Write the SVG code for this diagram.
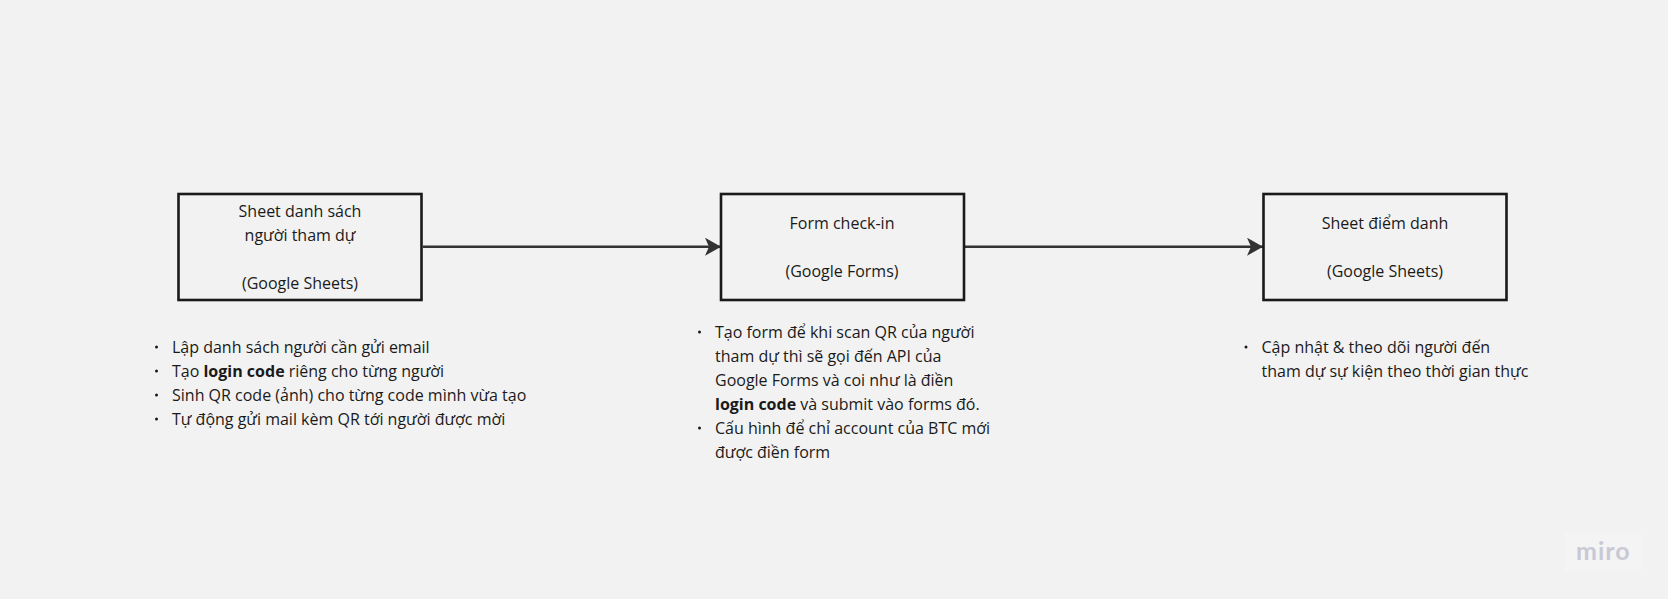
<svg xmlns="http://www.w3.org/2000/svg" width="1668" height="599" viewBox="0 0 1668 599">
<style>
text{font-family:"Open Sans","Noto Sans","DejaVu Sans",sans-serif;font-size:16px;fill:#1a1a1a}
.c{text-anchor:middle}
.b{font-weight:700}
.box{fill:none;stroke:#1a1a1a;stroke-width:2.6}
.edge{fill:none;stroke:#333;stroke-width:2.6;marker-end:url(#arrow)}
.dot{fill:#1a1a1a}
</style>
<defs>
<marker id="arrow" markerUnits="userSpaceOnUse" markerWidth="20" markerHeight="20" refX="17" refY="9" orient="auto"><path d="M1 0L17 9L1 18L5 9Z" fill="#333"/></marker>
</defs>
<rect width="1668" height="599" fill="#f2f2f2"/>
<g id="connectors">
<path class="edge" d="M423 246.7H721"/>
<path class="edge" d="M965 246.7H1263"/>
</g>
<g id="node-sheet-list">
<rect class="box" x="178.500" y="194" width="243" height="106"/>
<text class="c" x="300" y="217">Sheet danh sách</text>
<text class="c" x="300" y="241">người tham dự</text>
<text class="c" x="300" y="289">(Google Sheets)</text>
</g>
<g id="node-form">
<rect class="box" x="721" y="194" width="243" height="106"/>
<text class="c" x="842" y="229">Form check-in</text>
<text class="c" x="842" y="277">(Google Forms)</text>
</g>
<g id="node-sheet-attendance">
<rect class="box" x="1263.500" y="194" width="243" height="106"/>
<text class="c" x="1385" y="229">Sheet điểm danh</text>
<text class="c" x="1385" y="277">(Google Sheets)</text>
</g>
<g id="notes-1">
<circle class="dot" cx="156.500" cy="347" r="1.500"/><text x="172" y="352.600">Lập danh sách người cần gửi email</text>
<circle class="dot" cx="156.500" cy="371" r="1.500"/><text x="172" y="376.600">Tạo <tspan class="b">login code</tspan> riêng cho từng người</text>
<circle class="dot" cx="156.500" cy="395" r="1.500"/><text x="172" y="400.600">Sinh QR code (ảnh) cho từng code mình vừa tạo</text>
<circle class="dot" cx="156.500" cy="419" r="1.500"/><text x="172" y="424.600">Tự động gửi mail kèm QR tới người được mời</text>
</g>
<g id="notes-2">
<circle class="dot" cx="699.500" cy="332" r="1.500"/><text x="715" y="337.600">Tạo form để khi scan QR của người</text>
<text x="715" y="361.600">tham dự thì sẽ gọi đến API của</text>
<text x="715" y="385.600">Google Forms và coi như là điền</text>
<text x="715" y="409.600"><tspan class="b">login code</tspan> và submit vào forms đó.</text>
<circle class="dot" cx="699.500" cy="428" r="1.500"/><text x="715" y="433.600">Cấu hình để chỉ account của BTC mới</text>
<text x="715" y="457.600">được điền form</text>
</g>
<g id="notes-3">
<circle class="dot" cx="1246" cy="347" r="1.500"/><text x="1261.500" y="352.600">Cập nhật &amp; theo dõi người đến</text>
<text x="1261.500" y="376.600">tham dự sự kiện theo thời gian thực</text>
</g>
<g id="watermark">
<rect x="1565" y="532" width="77" height="40" rx="3" fill="#f4f4f4"/>
<text x="1576" y="560" style="font-family:'Lato','Open Sans',sans-serif;font-size:25px;font-weight:700;fill:#c9c9d6;letter-spacing:1px">miro</text>
</g>
</svg>
